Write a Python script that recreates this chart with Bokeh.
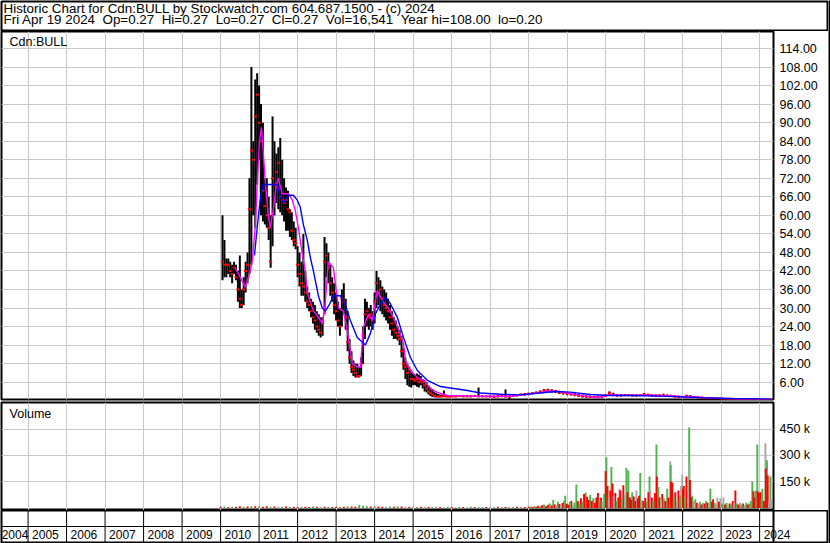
from bokeh.plotting import figure
from bokeh.layouts import column, row
from bokeh.models import (Range1d, LinearAxis, FixedTicker, NumeralTickFormatter,
                          PrintfTickFormatter, Grid, ColumnDataSource, Span, Label)
from bokeh.embed import file_html
from bokeh.resources import INLINE
from bokeh.core.properties import value

# ---------------- texts ----------------
title_line1 = "Historic Chart for Cdn:BULL by Stockwatch.com 604.687.1500 - (c) 2024"
title_line2 = "Fri Apr 19 2024  Op=0.27  Hi=0.27  Lo=0.27  Cl=0.27  Vol=16,541  Year hi=108.00  lo=0.20"
symbol_label = "Cdn:BULL"
volume_label = "Volume"

year_ticks = [2005, 2006, 2007, 2008, 2009, 2010, 2011, 2012, 2013, 2014,
              2015, 2016, 2017, 2018, 2019, 2020, 2021, 2022, 2023, 2024]
year_labels = ["2004", "2005", "2006", "2007", "2008", "2009", "2010", "2011", "2012", "2013",
               "2014", "2015", "2016", "2017", "2018", "2019", "2020", "2021", "2022", "2023", "2024"]
year_label_pos = [2004, 2005, 2006, 2007, 2008, 2009, 2010, 2011, 2012, 2013,
                  2014, 2015, 2016, 2017, 2018, 2019, 2020, 2021, 2022, 2023, 2024]
price_ticks = [6, 12, 18, 24, 30, 36, 42, 48, 54, 60, 66, 72, 78, 84, 90, 96, 102, 108, 114]
volume_ticks = [150, 300, 450]   # thousands

# ---------------- price bars ----------------
bar_date = [
    2010.05, 2010.10, 2010.15, 2010.20, 2010.25, 2010.30, 2010.35, 2010.40, 2010.45, 2010.50,
    2010.55, 2010.60, 2010.65, 2010.70, 2010.75, 2010.80, 2010.85, 2010.90, 2010.95, 2011.00,
    2011.05, 2011.10, 2011.15, 2011.20, 2011.25, 2011.30, 2011.35, 2011.40, 2011.45, 2011.50,
    2011.55, 2011.60, 2011.65, 2011.70, 2011.75, 2011.80, 2011.85, 2011.90, 2011.95, 2012.00,
    2012.05, 2012.10, 2012.15, 2012.20, 2012.25, 2012.30, 2012.35, 2012.40, 2012.45, 2012.50,
    2012.55, 2012.60, 2012.65, 2012.70, 2012.75, 2012.80, 2012.85, 2012.90, 2012.95, 2013.00,
    2013.05, 2013.10, 2013.15, 2013.20, 2013.25, 2013.30, 2013.35, 2013.40, 2013.45, 2013.50,
    2013.55, 2013.60, 2013.65, 2013.70, 2013.75, 2013.80, 2013.85, 2013.90, 2013.95, 2014.00,
    2014.05, 2014.10, 2014.15, 2014.20, 2014.25, 2014.30, 2014.35, 2014.40, 2014.45, 2014.50,
    2014.55, 2014.60, 2014.65, 2014.70, 2014.75, 2014.80, 2014.85, 2014.90, 2014.95, 2015.00,
    2015.05, 2015.10, 2015.15, 2015.20, 2015.25, 2015.30, 2015.35, 2015.40, 2015.45, 2015.50,
    2015.55, 2015.60, 2015.65, 2015.70, 2015.75, 2015.80, 2015.85, 2015.90, 2015.95,
    2016.0, 2016.1, 2016.2, 2016.3, 2016.4, 2016.5, 2016.6, 2016.7, 2016.8, 2016.9,
    2017.0, 2017.1, 2017.2, 2017.3, 2017.4, 2017.5, 2017.6, 2017.7, 2017.8, 2017.9,
    2018.0, 2018.1, 2018.2, 2018.3, 2018.4, 2018.5, 2018.6, 2018.7, 2018.8, 2018.9,
    2019.0, 2019.1, 2019.2, 2019.3, 2019.4, 2019.5, 2019.6, 2019.7, 2019.8, 2019.9,
    2020.0, 2020.1, 2020.2, 2020.3, 2020.4, 2020.5, 2020.6, 2020.7, 2020.8, 2020.9,
    2021.0, 2021.1, 2021.2, 2021.3, 2021.4, 2021.5, 2021.6, 2021.7, 2021.8, 2021.9,
    2022.0, 2022.1, 2022.2, 2022.3, 2022.4, 2022.5, 2022.6, 2022.7, 2022.8, 2022.9,
    2023.0, 2023.1, 2023.2, 2023.3, 2023.4, 2023.5, 2023.6, 2023.7, 2023.8, 2023.9,
    2024.0, 2024.1, 2024.2, 2024.3,
]
bar_high = [
    60, 52, 46, 46, 45, 44, 45, 44, 42, 47,
    36, 40, 45, 48, 72, 108, 84, 104, 106, 102,
    96, 90, 72, 72, 66, 60, 92, 84, 80, 82,
    85, 78, 72, 69, 68, 62, 61, 58, 56, 50,
    48, 45, 54, 42, 37, 35, 33, 32, 31, 29,
    28, 27, 27, 53, 51, 48, 44, 40, 38, 35,
    32, 30, 36, 38, 33, 29, 20, 16, 13, 12,
    12, 11, 14, 24, 33, 32, 30, 31, 29, 35,
    42, 40, 39, 37, 36, 35, 33, 31, 29, 27,
    26, 24, 23, 21, 17, 14, 12, 11, 10, 8.8,
    8.5, 8.8, 8.5, 8, 7, 6.6, 6, 5, 4.3, 3.5,
    3, 2.5, 2.2, 2, 2, 3.3, 2, 1.8, 1.8,
    1.8, 1.7, 1.8, 1.7, 1.8, 1.7, 1.8, 4.3, 1.8, 1.7,
    1.8, 1.7, 1.8, 1.8, 3.6, 1.8, 2.0, 2.2, 2.3, 2.4,
    2.6, 2.8, 3.0, 3.3, 3.8, 3.9, 3.7, 3.5, 3.2, 3.0,
    2.8, 2.6, 2.4, 2.2, 2.0, 1.8, 1.7, 1.6, 1.6, 1.8,
    2.0, 3.0, 2.6, 2.2, 2.1, 2.2, 2.2, 2.1, 2.0, 2.1,
    2.5, 2.3, 2.1, 2.0, 2.1, 2.3, 2.0, 1.9, 1.7, 1.6,
    1.5, 1.9, 1.8, 1.5, 1.4, 1.3, 1.2, 1.2, 1.1, 1.0,
    0.9, 0.8, 0.8, 0.7, 0.7, 0.6, 0.6, 0.5, 0.5, 0.9,
    0.5, 0.4, 0.35, 0.27,
]
bar_low = [
    39, 40, 40, 41, 40, 38, 41, 39, 32, 30,
    30, 31, 35, 38, 41, 44, 60, 56, 70, 78,
    60, 58, 57, 56, 52, 43, 50, 60, 64, 62,
    61, 60, 58, 55, 55, 53, 52, 50, 49, 40,
    37, 34, 34, 32, 30, 29, 27, 25, 23, 22,
    21, 20.5, 21, 28, 40, 38, 34, 32, 28, 26,
    24, 21, 24, 28, 23, 16, 12, 9, 8, 7.5,
    7.5, 7.5, 8, 12, 20, 24, 23, 24, 23, 25,
    30, 31, 29, 28, 27, 26, 25, 23, 21, 20,
    20, 19.5, 18, 14, 10, 7, 5, 4.5, 4.3, 5,
    5, 4.5, 4.3, 5, 4, 3, 2.7, 2, 1.5, 1.2,
    1.1, 1.1, 1.1, 1.1, 1.2, 1.2, 1.2, 1.2, 1.2,
    1.2, 1.2, 1.2, 1.2, 1.2, 1.2, 1.2, 1.2, 1.2, 1.2,
    1.1, 1.0, 1.1, 1.1, 1.1, 0.6, 1.3, 1.4, 1.5, 1.6,
    1.8, 2.0, 2.2, 2.4, 2.7, 2.8, 2.6, 2.5, 2.2, 2.0,
    1.8, 1.7, 1.5, 1.3, 1.1, 1.0, 1.0, 0.9, 0.9, 1.0,
    1.2, 1.5, 1.6, 1.4, 1.4, 1.5, 1.5, 1.4, 1.4, 1.5,
    1.6, 1.6, 1.4, 1.3, 1.4, 1.5, 1.3, 1.2, 1.1, 1.0,
    0.9, 1.0, 1.0, 0.9, 0.8, 0.8, 0.7, 0.7, 0.6, 0.6,
    0.5, 0.5, 0.4, 0.4, 0.4, 0.3, 0.3, 0.3, 0.25, 0.25,
    0.25, 0.2, 0.2, 0.27,
]
bar_close = [
    45, 44, 44, 44, 42, 41, 43, 40, 36, 33,
    31, 36, 42, 44, 62, 81, 78, 92, 99, 90,
    84, 68, 63, 60, 56, 45, 72, 70, 74, 77,
    66, 65, 64, 65, 62, 61, 55, 52, 51, 44,
    41, 38, 37, 35, 32, 31, 29, 27, 26, 24,
    23, 22, 25, 45, 47, 43, 38, 35, 31, 29,
    26, 24, 33, 32, 27, 19, 14, 11, 10, 9,
    8, 8, 12, 21, 28, 29, 27, 28, 26, 32,
    38, 35, 36, 33, 31, 30, 29, 27, 25, 23,
    22, 21, 20, 16, 12, 11, 9, 10, 7, 7,
    6.5, 7, 6, 6.5, 6, 5, 4, 3, 2.5, 2,
    1.6, 1.4, 1.4, 1.4, 1.4, 1.5, 1.4, 1.4, 1.4,
    1.4, 1.4, 1.5, 1.4, 1.4, 1.4, 1.5, 1.4, 1.4, 1.4,
    1.4, 1.2, 1.4, 1.5, 1.4, 1.3, 1.6, 1.8, 2.0, 2.1,
    2.3, 2.5, 2.6, 2.9, 3.3, 3.5, 3.2, 3.0, 2.7, 2.5,
    2.3, 2.1, 1.8, 1.6, 1.4, 1.3, 1.2, 1.2, 1.1, 1.3,
    1.6, 2.6, 2.0, 1.7, 1.7, 1.8, 1.8, 1.7, 1.7, 1.8,
    2.1, 1.9, 1.7, 1.6, 1.7, 1.8, 1.6, 1.5, 1.4, 1.3,
    1.2, 1.5, 1.4, 1.2, 1.1, 1.0, 0.9, 0.9, 0.8, 0.8,
    0.7, 0.6, 0.6, 0.5, 0.5, 0.45, 0.4, 0.4, 0.35, 0.3,
    0.3, 0.27, 0.27, 0.27,
]

# ---------------- moving averages ----------------
fast_ma_date = [
    2010.38, 2010.51, 2010.64, 2010.75, 2010.82, 2010.90, 2010.95, 2011.01, 2011.06, 2011.11,
    2011.16, 2011.24, 2011.29, 2011.37, 2011.45, 2011.50, 2011.60, 2011.76, 2011.86, 2011.94,
    2012.02, 2012.12, 2012.20, 2012.25, 2012.41, 2012.54, 2012.64, 2012.70, 2012.80, 2012.93,
    2013.06, 2013.19, 2013.32, 2013.42, 2013.53, 2013.63, 2013.71, 2013.84, 2013.94, 2014.07,
    2014.20, 2014.41, 2014.59, 2014.75, 2014.80, 2014.93, 2015.11, 2015.27, 2015.45, 2015.63,
    2015.89, 2016.5, 2017.0, 2017.5, 2017.8, 2018.0, 2018.3, 2018.5, 2018.8, 2019.0,
    2019.3, 2019.6, 2019.9, 2020.1, 2020.3, 2020.6, 2020.9, 2021.1, 2021.4, 2021.7,
    2022.0, 2022.2, 2022.5, 2022.8, 2023.1, 2023.5, 2023.9, 2024.3,
]
fast_ma = [
    43, 40, 36.7, 41, 45, 56, 70, 84, 88.5, 80,
    71, 60, 56, 62, 70, 72, 67, 67, 65, 61.6,
    56, 47.6, 42, 35, 29, 27, 25, 29, 45, 43,
    30, 29, 20.5, 12, 11, 10.8, 23.8, 28, 26, 35.7,
    32.5, 29, 24, 18.5, 13, 9.8, 7.5, 6.6, 4, 2.7,
    1.7, 1.5, 1.45, 1.45, 1.8, 2.2, 2.7, 3.2, 3.0, 2.5,
    1.8, 1.3, 1.2, 2.0, 1.9, 1.8, 1.8, 1.9, 1.7, 1.6,
    1.3, 1.35, 1.1, 0.85, 0.65, 0.5, 0.35, 0.3,
]
slow_ma_date = [
    2010.88, 2010.95, 2011.03, 2011.11, 2011.29, 2011.47, 2011.55, 2011.63, 2011.76, 2011.89,
    2011.99, 2012.07, 2012.15, 2012.25, 2012.33, 2012.41, 2012.54, 2012.64, 2012.72, 2012.82,
    2012.93, 2013.11, 2013.24, 2013.37, 2013.55, 2013.76, 2013.89, 2014.02, 2014.15, 2014.28,
    2014.41, 2014.59, 2014.75, 2014.93, 2015.11, 2015.37, 2015.71, 2015.88, 2016.41, 2016.75,
    2017.27, 2017.78, 2018.30, 2018.68, 2019.08, 2019.60, 2020.12, 2020.72, 2021.60, 2022.46,
    2023.31, 2024.30,
]
slow_ma = [
    47, 56, 65, 70, 70, 70, 66, 64, 66.5, 66.5,
    65, 62.6, 57, 52, 46.4, 42, 34, 30, 29, 31,
    34, 34, 31, 26, 20.5, 18, 21.8, 28, 31.4, 33.5,
    31.4, 27, 20.5, 14, 9.8, 6.6, 4.6, 4.3, 3.3, 2.5,
    2.1, 1.9, 2.5, 3.0, 2.8, 2.0, 1.7, 1.7, 1.4, 1.0,
    0.7, 0.5,
]

# ---------------- volume (thousands) ----------------
vol_date = [
    2010.0, 2010.1, 2010.2, 2010.3, 2010.4, 2010.5, 2010.6, 2010.7, 2010.8, 2010.9,
    2011.0, 2011.1, 2011.2, 2011.3, 2011.4, 2011.5, 2011.6, 2011.7, 2011.8, 2011.9,
    2012.0, 2012.1, 2012.2, 2012.3, 2012.4, 2012.5, 2012.6, 2012.7, 2012.8, 2012.9,
    2013.0, 2013.1, 2013.2, 2013.3, 2013.4, 2013.5, 2013.6, 2013.7, 2013.8, 2013.9,
    2014.0, 2014.1, 2014.2, 2014.3, 2014.4, 2014.5, 2014.6, 2014.7, 2014.8, 2014.9,
    2015.0, 2015.1, 2015.2, 2015.3, 2015.4, 2015.5, 2015.6, 2015.7, 2015.8, 2015.9,
    2016.0, 2016.1, 2016.2, 2016.3, 2016.4, 2016.5, 2016.6, 2016.7, 2016.8, 2016.9,
    2017.0, 2017.1, 2017.2, 2017.3, 2017.4, 2017.5, 2017.6, 2017.7, 2017.8, 2017.9,
    2018.00, 2018.05, 2018.10, 2018.15, 2018.20, 2018.25, 2018.30, 2018.35, 2018.40, 2018.45,
    2018.50, 2018.55, 2018.60, 2018.64, 2018.68, 2018.72, 2018.76, 2018.80, 2018.84, 2018.88,
    2018.92, 2018.95, 2018.99, 2019.03, 2019.07, 2019.11, 2019.15, 2019.19, 2019.24, 2019.28,
    2019.32, 2019.36, 2019.40, 2019.44, 2019.48, 2019.52, 2019.56, 2019.60, 2019.64, 2019.68,
    2019.72, 2019.76, 2019.80, 2019.84, 2019.88, 2019.92, 2019.96, 2020.00, 2020.02, 2020.05,
    2020.08, 2020.12, 2020.15, 2020.18, 2020.21, 2020.25, 2020.29, 2020.33, 2020.36, 2020.38,
    2020.42, 2020.46, 2020.50, 2020.54, 2020.57, 2020.59, 2020.63, 2020.66, 2020.69, 2020.73,
    2020.77, 2020.80, 2020.84, 2020.87, 2020.90, 2020.94, 2020.98, 2021.03, 2021.07, 2021.11,
    2021.14, 2021.16, 2021.20, 2021.24, 2021.28, 2021.32, 2021.33, 2021.37, 2021.40, 2021.44,
    2021.47, 2021.51, 2021.55, 2021.60, 2021.63, 2021.68, 2021.69, 2021.70, 2021.73, 2021.77,
    2021.81, 2021.85, 2021.89, 2021.93, 2021.96, 2021.99, 2022.01, 2022.03, 2022.06, 2022.10,
    2022.14, 2022.17, 2022.18, 2022.19, 2022.22, 2022.25, 2022.29, 2022.33, 2022.37, 2022.41,
    2022.45, 2022.49, 2022.53, 2022.57, 2022.61, 2022.65, 2022.69, 2022.72, 2022.76, 2022.79,
    2022.83, 2022.87, 2022.90, 2022.94, 2022.98, 2023.02, 2023.06, 2023.10, 2023.14, 2023.18,
    2023.22, 2023.26, 2023.30, 2023.34, 2023.37, 2023.41, 2023.45, 2023.49, 2023.53, 2023.57,
    2023.61, 2023.65, 2023.69, 2023.73, 2023.77, 2023.81, 2023.84, 2023.86, 2023.90, 2023.94,
    2023.95, 2023.98, 2024.02, 2024.05, 2024.07, 2024.11, 2024.15, 2024.16, 2024.19, 2024.21,
    2024.25, 2024.28, 2024.30,
]
vol_k = [
    6, 8, 5, 7, 6, 9, 7, 8, 10, 9,
    8, 7, 9, 6, 8, 7, 6, 8, 7, 6,
    5, 6, 7, 5, 8, 6, 5, 7, 6, 5,
    6, 5, 7, 9, 8, 6, 17, 12, 10, 8,
    9, 8, 7, 6, 8, 7, 9, 8, 6, 7,
    6, 5, 7, 6, 5, 4, 6, 5, 4, 6,
    5, 4, 6, 5, 4, 7, 5, 4, 6, 5,
    4, 5, 6, 4, 5, 6, 5, 7, 6, 5,
    6, 8, 5, 10, 7, 12, 9, 15, 20, 10,
    18, 25, 14, 45, 20, 12, 35, 22, 16, 28,
    40, 70, 24, 18, 35, 40, 14, 30, 134, 38,
    22, 55, 36, 80, 88, 64, 45, 73, 40, 55,
    30, 60, 85, 42, 58, 35, 80, 211, 290, 125,
    60, 100, 234, 140, 70, 85, 40, 60, 110, 100,
    50, 130, 75, 228, 90, 214, 60, 45, 90, 65,
    40, 100, 55, 70, 200, 45, 40, 57, 35, 90,
    180, 100, 60, 40, 85, 363, 180, 120, 60, 45,
    80, 55, 40, 110, 60, 266, 245, 150, 145, 60,
    90, 40, 100, 70, 125, 190, 110, 125, 60, 180,
    90, 460, 260, 160, 60, 70, 40, 50, 30, 25,
    35, 20, 30, 25, 40, 30, 20, 110, 35, 50,
    30, 20, 60, 35, 55, 25, 60, 20, 30, 15,
    25, 20, 40, 30, 100, 25, 20, 30, 20, 25,
    15, 30, 20, 25, 40, 150, 95, 60, 100, 363,
    95, 85, 90, 50, 110, 40, 370, 225, 272, 185,
    30, 180, 45,
]
# g = up week (green), r = down week (red), s = unchanged (grey)
vol_dir = list(
    "rgrgrrgrgr" "grrgrsgrgr" "rgrrgrsrgr" "rgrgrrgggr"
    "grrsgrgrsr" "sgrsrgsrsg" "rsgrsgrgsr" "gsrgrsgrsr"
    "rgrgrrgrgr" "rgrgrsgrsr" "ggrrgrsggr" "grgrgrrgrg"
    "rrrgrsgrgr" "srgrsrgrsr" "grsgrgrrgr" "rsrrgsrrgr"
    "gsrgrgrgrs" "rgrgrsgrrg" "rsrgssrrgr" "sgsrrgsgrs"
    "grsrgrsgrr" "gssrsgsrgs" "rgrsrgrsgr" "sgrgggrrgg"
    "rrrggrsrgr" "sgs"
)

# ---------------- layout ----------------
FONT = "Liberation Sans"
W = 828                 # figures; a 2px black strip completes the 830px page
FRAME_L, FRAME_R = 1, 55
X0, X1 = 2004.31, 2024.36
GRID = "#c8c8c8"
x_range = Range1d(X0, X1)


def panel(height, y_range, xr=x_range, top=0, bottom=0, right=FRAME_R):
    p = figure(width=W, height=height, x_range=xr, y_range=y_range,
               output_backend="svg", toolbar_location=None, tools="",
               x_axis_location=None, y_axis_location=None,
               min_border_left=FRAME_L, min_border_right=right,
               min_border_top=top, min_border_bottom=bottom)
    try:
        p.frame_align = False
    except AttributeError:
        pass
    p.grid.visible = False
    p.outline_line_color = "black"
    p.outline_line_width = 2
    p.outline_line_alpha = 1.0
    p.background_fill_color = "white"
    p.border_fill_color = "white"
    return p


def right_axis(p, ticks, formatter):
    ax = LinearAxis(ticker=FixedTicker(ticks=ticks), formatter=formatter)
    ax.axis_line_color = None
    ax.major_tick_line_color = None
    ax.minor_tick_line_color = None
    ax.major_tick_out = 0
    ax.major_label_standoff = 6
    ax.major_label_text_font = FONT
    ax.major_label_text_font_size = "12.5px"
    ax.major_label_text_color = "black"
    p.add_layout(ax, "right")


# header
head = panel(31, Range1d(0, 30), xr=Range1d(0, W - FRAME_L), top=1, bottom=0, right=0)
head.add_layout(Label(x=2, y=23.3, text=title_line1, text_font=FONT, text_font_size="13.4px",
                      text_baseline="middle", text_color="black"))
head.add_layout(Label(x=2, y=11.8, text=title_line2.replace("  ", " \u00a0"), text_font=FONT,
                      text_font_size="13.4px", text_baseline="middle", text_color="black"))

# price panel
pp = panel(370, Range1d(0.4, 119.5), top=0, bottom=2)
pp.add_layout(Grid(dimension=0, ticker=FixedTicker(ticks=year_ticks), grid_line_color=GRID))
pp.add_layout(Grid(dimension=1, ticker=FixedTicker(ticks=price_ticks), grid_line_color=GRID))
right_axis(pp, price_ticks, NumeralTickFormatter(format="0.00"))
bars = ColumnDataSource(dict(d=bar_date, hi=bar_high, lo=bar_low, cl=bar_close))
pp.segment(x0="d", y0="lo", x1="d", y1="hi", source=bars, line_color="black", line_width=2)
pp.rect(x="d", y="cl", width=3, height=2, width_units="screen", height_units="screen",
        source=bars, fill_color="#ff0000", line_color=None)
pp.line(fast_ma_date, fast_ma, line_color="#ff00ff", line_width=1.4)
pp.line(slow_ma_date, slow_ma, line_color="#0000ff", line_width=1.4)
pp.add_layout(Label(x=X0 + 0.21, y=116.1, text=symbol_label, text_font=FONT,
                    text_font_size="12.5px", text_baseline="middle", text_color="black"))

# volume panel
vp = panel(109, Range1d(-15, 603), top=1, bottom=0)
vp.add_layout(Grid(dimension=0, ticker=FixedTicker(ticks=year_ticks), grid_line_color=GRID))
vp.add_layout(Grid(dimension=1, ticker=FixedTicker(ticks=volume_ticks), grid_line_color=GRID))
right_axis(vp, volume_ticks, PrintfTickFormatter(format="%d k"))
cmap = {"g": "#4db34d", "r": "#ff0000", "s": "#a8a8a8"}
order = sorted(range(len(vol_k)), key=lambda i: -vol_k[i])
vsrc = ColumnDataSource(dict(x=[vol_date[i] for i in order],
                             top=[vol_k[i] for i in order],
                             color=[cmap[vol_dir[i]] for i in order]))
vp.vbar(x="x", top="top", bottom=0, width=0.05, source=vsrc, fill_color="color", line_color=None)
vp.add_layout(Label(x=X0 + 0.21, y=540, text=volume_label, text_font=FONT,
                    text_font_size="12.5px", text_baseline="middle", text_color="black"))

# year strip (frame spans the full width so the last label may run past the price edge)
main_frame = W - FRAME_L - FRAME_R
year_frame = W - FRAME_L
yr_range = Range1d(X0, X0 + (X1 - X0) * year_frame / main_frame)
yp = panel(33, Range1d(0, 2), xr=yr_range, top=0, bottom=1, right=0)
yp.segment(x0=year_ticks, y0=0, x1=year_ticks, y1=2, line_color="black", line_width=1)
yp.segment(x0=[X0], y0=[1], x1=[X1], y1=[1], line_color="black", line_width=1)
yp.add_layout(Span(location=X1, dimension="height", line_color="black", line_width=2))
lab_x = [max(v, X0 - 0.1) for v in year_label_pos]
yp.text(x=lab_x, y=0.5, text=year_labels, x_offset=4, text_align="left",
        text_baseline="middle", text_font=value(FONT), text_font_size="12px",
        text_color="black")

# right outer border strip
strip = figure(width=2, height=543, output_backend="svg", toolbar_location=None, tools="",
               x_axis_location=None, y_axis_location=None, min_border=0,
               min_border_left=0, min_border_right=0, min_border_top=0, min_border_bottom=0)
strip.grid.visible = False
strip.outline_line_color = None
strip.background_fill_color = "black"
strip.border_fill_color = "black"

assert len(bar_date) == len(bar_high) == len(bar_low) == len(bar_close)
assert len(fast_ma_date) == len(fast_ma)
assert len(slow_ma_date) == len(slow_ma)
assert len(vol_date) == len(vol_k) == len(vol_dir), (len(vol_date), len(vol_k), len(vol_dir))

layout = row(column(head, pp, vp, yp, spacing=0), strip, spacing=0)
open("out.html", "w").write(file_html(layout, INLINE))
